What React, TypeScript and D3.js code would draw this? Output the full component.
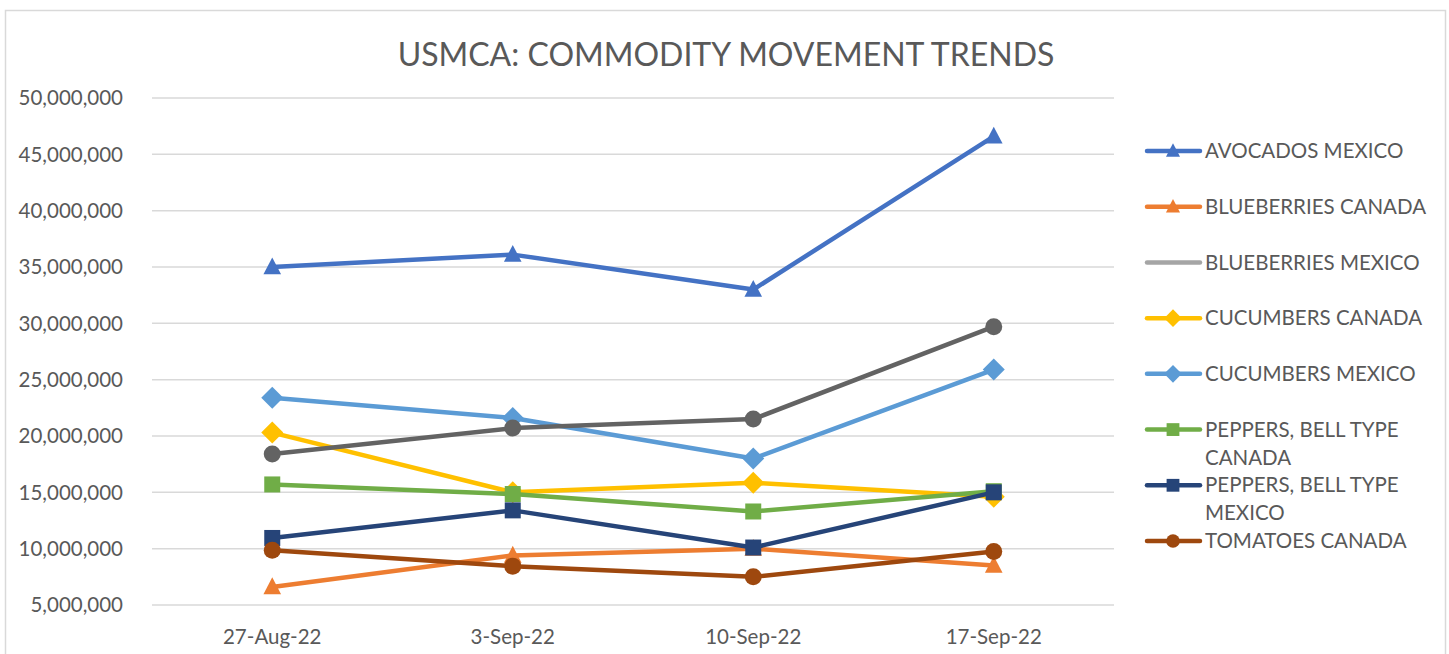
import * as d3 from 'd3'

const weeks = ['27-Aug-22', '3-Sep-22', '10-Sep-22', '17-Sep-22']
const yTicks = [5e6, 10e6, 15e6, 20e6, 25e6, 30e6, 35e6, 40e6, 45e6, 50e6]

const avocadosMexico = [35.0e6, 36.1e6, 33.0e6, 46.6e6]
const blueberriesCanada = [6.6e6, 9.4e6, 10.0e6, 8.5e6]
const blueberriesMexico: number[] = []
const cucumbersCanada = [20.3e6, 15.0e6, 15.85e6, 14.6e6]
const cucumbersMexico = [23.4e6, 21.6e6, 18.0e6, 25.9e6]
const peppersCanada = [15.7e6, 14.85e6, 13.3e6, 15.1e6]
const peppersMexico = [10.95e6, 13.4e6, 10.1e6, 15.0e6]
const tomatoesCanada = [9.85e6, 8.45e6, 7.5e6, 9.75e6]
const tomatoesMexico = [18.4e6, 20.7e6, 21.5e6, 29.7e6]

type Shape = 'triangle' | 'diamond' | 'square' | 'circle' | 'none'
const series: { name: string[]; values: number[]; color: string; shape: Shape; legend: boolean }[] = [
  { name: ['AVOCADOS MEXICO'], values: avocadosMexico, color: '#4472C4', shape: 'triangle', legend: true },
  { name: ['BLUEBERRIES CANADA'], values: blueberriesCanada, color: '#ED7D31', shape: 'triangle', legend: true },
  { name: ['BLUEBERRIES MEXICO'], values: blueberriesMexico, color: '#A5A5A5', shape: 'none', legend: true },
  { name: ['CUCUMBERS CANADA'], values: cucumbersCanada, color: '#FFC000', shape: 'diamond', legend: true },
  { name: ['CUCUMBERS MEXICO'], values: cucumbersMexico, color: '#5B9BD5', shape: 'diamond', legend: true },
  { name: ['PEPPERS, BELL TYPE', 'CANADA'], values: peppersCanada, color: '#70AD47', shape: 'square', legend: true },
  { name: ['PEPPERS, BELL TYPE', 'MEXICO'], values: peppersMexico, color: '#264478', shape: 'square', legend: true },
  { name: ['TOMATOES CANADA'], values: tomatoesCanada, color: '#9E480E', shape: 'circle', legend: true },
  { name: ['TOMATOES MEXICO'], values: tomatoesMexico, color: '#636363', shape: 'circle', legend: false },
]

const font = 'Lato, "Open Sans", sans-serif'
const textColor = '#595959'

const marker = (shape: Shape, x: number, y: number, color: string, s = 1) => {
  if (shape === 'triangle') {
    const h = 16 * s
    return <path d={`M${x},${y - h * 0.6}L${x + h * 0.55},${y + h * 0.45}L${x - h * 0.55},${y + h * 0.45}Z`} fill={color} />
  }
  if (shape === 'diamond') {
    const r = 11 * s
    return <path d={`M${x},${y - r}L${x + r},${y}L${x},${y + r}L${x - r},${y}Z`} fill={color} />
  }
  if (shape === 'square') {
    const r = 8 * s
    return <rect x={x - r} y={y - r} width={r * 2} height={r * 2} fill={color} />
  }
  if (shape === 'circle') {
    return <circle cx={x} cy={y} r={8.5 * s} fill={color} />
  }
  return null
}

export default function App() {
  const width = 1449
  const height = 654
  const plot = { left: 152, right: 1114, top: 98, bottom: 605 }

  const x = d3.scaleBand().domain(weeks).range([plot.left, plot.right])
  const y = d3.scaleLinear().domain([5e6, 50e6]).range([plot.bottom, plot.top])
  const fmt = d3.format(',')
  const line = d3
    .line<number>()
    .x((_, i) => (x(weeks[i]) as number) + x.bandwidth() / 2)
    .y((d) => y(d))

  const legendItems = series.filter((s) => s.legend)
  const legendY = d3.scalePoint<number>().domain(d3.range(legendItems.length)).range([151, 541])

  return (
    <svg width={width} height={height} style={{ position: 'absolute', left: 0, top: 0 }}>
      <rect x={0} y={0} width={width} height={height} fill="#fff" />
      <rect x={5.5} y={10.5} width={1440} height={700} fill="none" stroke="#d9d9d9" strokeWidth={1.5} />
      <text x={726} y={66} textAnchor="middle" fontFamily={font} fontSize={32} fill={textColor}>
        USMCA: COMMODITY MOVEMENT TRENDS
      </text>

      {yTicks.map((t) => (
        <g key={t}>
          <line x1={plot.left} x2={plot.right} y1={y(t)} y2={y(t)} stroke="#d9d9d9" strokeWidth={1.5} />
          <text x={123} y={y(t)} dy="0.35em" textAnchor="end" fontFamily={font} fontSize={20.5} fill={textColor}>
            {fmt(t)}
          </text>
        </g>
      ))}

      {weeks.map((w) => (
        <text
          key={w}
          x={(x(w) as number) + x.bandwidth() / 2}
          y={637}
          dy="0.35em"
          textAnchor="middle"
          fontFamily={font}
          fontSize={20.5}
          fill={textColor}
        >
          {w}
        </text>
      ))}

      {series.map((s) =>
        s.values.length ? (
          <g key={s.name.join(' ')}>
            <path d={line(s.values) || ''} fill="none" stroke={s.color} strokeWidth={4.5} strokeLinejoin="round" strokeLinecap="round" />
            {s.values.map((v, i) => (
              <g key={i}>{marker(s.shape, (x(weeks[i]) as number) + x.bandwidth() / 2, y(v), s.color)}</g>
            ))}
          </g>
        ) : null
      )}

      {legendItems.map((s, i) => {
        const ly = legendY(i) as number
        return (
          <g key={s.name.join(' ')}>
            <line x1={1147} x2={1200} y1={ly} y2={ly} stroke={s.color} strokeWidth={4.5} strokeLinecap="round" />
            {marker(s.shape, 1173, ly, s.color, 0.8)}
            {s.name.map((n, j) => (
              <text key={j} x={1205} y={ly + j * 28} dy="0.35em" fontFamily={font} fontSize={20.5} fill={textColor}>
                {n}
              </text>
            ))}
          </g>
        )
      })}
    </svg>
  )
}
